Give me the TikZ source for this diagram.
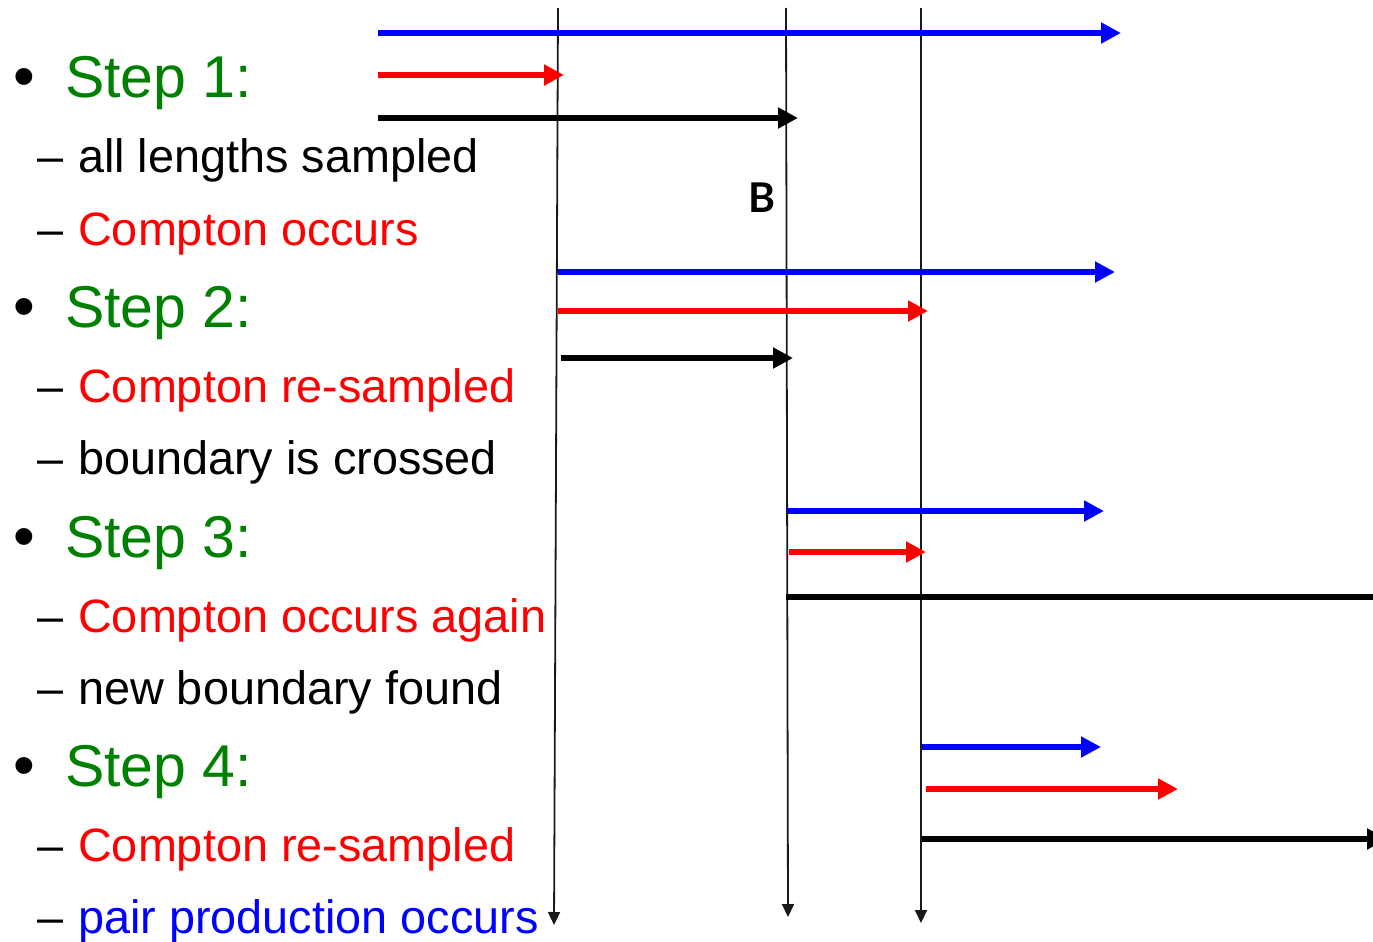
\documentclass[tikz,border=0pt]{standalone}
\usepackage{fontspec}
\setmainfont{Liberation Sans}
\newfontfamily\labelfont{Lato}
\usetikzlibrary{arrows.meta}
\definecolor{stepgreen}{RGB}{0,128,0}
\definecolor{pathred}{RGB}{255,0,0}
\definecolor{pathblue}{RGB}{0,0,255}
\tikzset{
  steptext/.style={anchor=base west, inner sep=0pt, text=stepgreen, font=\fontsize{59}{60}\selectfont},
  bullettext/.style={anchor=base west, inner sep=0pt, font=\fontsize{62}{60}\selectfont},
  subtext/.style={anchor=base west, inner sep=0pt, font=\fontsize{46.8}{50}\selectfont},
  track/.style={line width=6pt, -{Triangle[length=20pt,width=20pt]}},
  boundary/.style={line width=1.8pt, draw=black!90, -{Triangle[length=13pt,width=12pt]}},
}
\begin{document}
\begin{tikzpicture}[x=1pt,y=-1pt]
\useasboundingbox (0,0) rectangle (1373,942);

% ---- text column ----
\node[bullettext] (b1) at (13,97) {•};
\node[steptext] (s1) at (65,97) {Step 1:};
\node[subtext] (d11) at (37,172) {–};
\node[subtext] (t11) at (78,172) {all lengths sampled};
\node[subtext] (d12) at (37,245) {–};
\node[subtext, text=pathred] (t12) at (78,245) {Compton occurs};

\node[bullettext] (b2) at (13,327) {•};
\node[steptext] (s2) at (65,327) {Step 2:};
\node[subtext] (d21) at (37,402) {–};
\node[subtext, text=pathred] (t21) at (78,402) {Compton re-sampled};
\node[subtext] (d22) at (37,474) {–};
\node[subtext] (t22) at (78,474) {boundary is crossed};

\node[bullettext] (b3) at (13,557) {•};
\node[steptext] (s3) at (65,557) {Step 3:};
\node[subtext] (d31) at (37,632) {–};
\node[subtext, text=pathred] (t31) at (78,632) {Compton occurs again};
\node[subtext] (d32) at (37,704) {–};
\node[subtext] (t32) at (78,704) {new boundary found};

\node[bullettext] (b4) at (13,786) {•};
\node[steptext] (s4) at (65,786) {Step 4:};
\node[subtext] (d41) at (37,861) {–};
\node[subtext, text=pathred] (t41) at (78,861) {Compton re-sampled};
\node[subtext] (d42) at (37,933) {–};
\node[subtext, text=pathblue] (t42) at (78,933) {pair production occurs};

% ---- interaction points / boundaries ----
\coordinate (v1top) at (558,8);   \coordinate (v1bot) at (554,925);
\coordinate (v2top) at (786,8);   \coordinate (v2bot) at (788,917);
\coordinate (v3top) at (921,8);   \coordinate (v3bot) at (921,923);
\draw[boundary] (v1top) -- (v1bot);
\draw[boundary] (v2top) -- (v2bot);
\draw[boundary] (v3top) -- (v3bot);

\node[inner sep=0pt, font=\labelfont\bfseries\fontsize{41}{41}\selectfont] (blabel) at (762,198) {B};

% ---- step 1 ----
\coordinate (a1s) at (378,33);  \coordinate (a1e) at (1121,33);
\coordinate (a2s) at (378,75);  \coordinate (a2e) at (564,75);
\coordinate (a3s) at (378,118); \coordinate (a3e) at (798,118);
\draw[track, pathblue] (a1s) -- (a1e);
\draw[track, pathred] (a2s) -- (a2e);
\draw[track, black] (a3s) -- (a3e);

% ---- step 2 ----
\coordinate (b1s) at (558,272); \coordinate (b1e) at (1115,272);
\coordinate (b2s) at (558,311); \coordinate (b2e) at (928,311);
\coordinate (b3s) at (561,358); \coordinate (b3e) at (793,358);
\draw[track, pathblue] (b1s) -- (b1e);
\draw[track, pathred] (b2s) -- (b2e);
\draw[track, black] (b3s) -- (b3e);

% ---- step 3 ----
\coordinate (c1s) at (787,511); \coordinate (c1e) at (1104,511);
\coordinate (c2s) at (789,552); \coordinate (c2e) at (926,552);
\coordinate (c3s) at (786,597); \coordinate (c3e) at (1373,597);
\draw[track, pathblue] (c1s) -- (c1e);
\draw[track, pathred] (c2s) -- (c2e);
\draw[line width=6pt, black] (c3s) -- (c3e);

% ---- step 4 ----
\coordinate (e1s) at (922,747); \coordinate (e1e) at (1101,747);
\coordinate (e2s) at (926,789); \coordinate (e2e) at (1178,789);
\coordinate (e3s) at (922,839); \coordinate (e3e) at (1387,839);
\draw[track, pathblue] (e1s) -- (e1e);
\draw[track, pathred] (e2s) -- (e2e);
\draw[track, black] (e3s) -- (e3e);
\end{tikzpicture}
\end{document}
